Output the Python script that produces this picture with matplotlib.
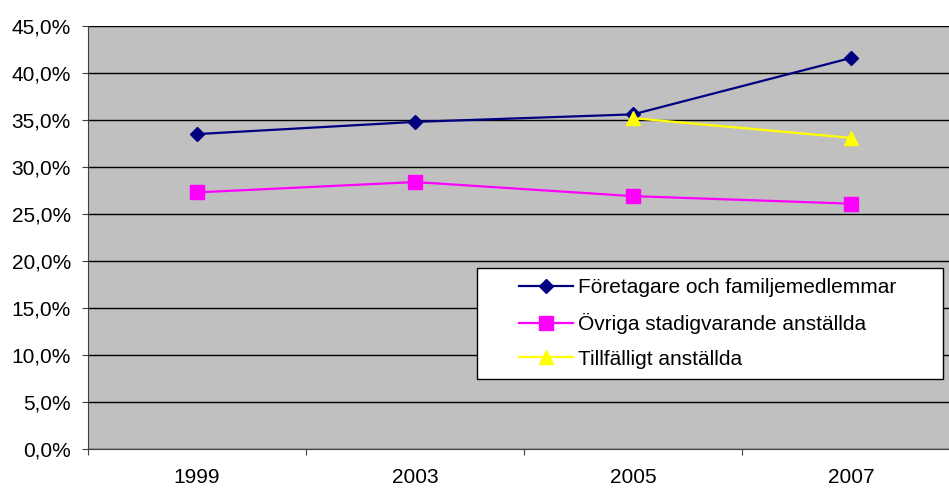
import numpy as np
import matplotlib.pyplot as plt
from matplotlib.ticker import FixedLocator
from matplotlib.patches import Rectangle

plt.rcParams['font.family'] = ['Liberation Sans', 'DejaVu Sans']

# Data
years = ["1999", "2003", "2005", "2007"]
foretagare = [33.5, 34.8, 35.6, 41.6]
ovriga = [27.3, 28.4, 26.9, 26.1]
tillfalligt = [np.nan, np.nan, 35.2, 33.1]

labels = ["Företagare och familjemedlemmar",
          "Övriga stadigvarande anställda",
          "Tillfälligt anställda"]

W, H = 949, 488
fig = plt.figure(figsize=(W / 100, H / 100), dpi=100)
ax = fig.add_axes([88 / W, 39 / H, 872 / W, 423 / H])
ax.set_facecolor("#C0C0C0")

x = np.arange(len(years))
ax.plot(x, foretagare, color="#000080", marker="D", markersize=7, lw=1.6, label=labels[0])
ax.plot(x, ovriga, color="#FF00FF", marker="s", markersize=9.5, lw=1.6, label=labels[1])
ax.plot(x, tillfalligt, color="#FFFF00", marker="^", markersize=10, lw=1.6, label=labels[2])

ax.set_xlim(-0.5, 3.5)
ax.set_ylim(0, 45)
ax.set_yticks(np.arange(0, 46, 5))
ax.set_yticklabels([f"{v:.1f}%".replace(".", ",") for v in np.arange(0, 46, 5)])
ax.yaxis.grid(True, color="black", lw=1)
ax.set_axisbelow(True)

# category boundaries get the tick marks, labels sit at the centres
ax.xaxis.set_major_locator(FixedLocator(np.arange(-0.5, 4, 1)))
ax.xaxis.set_major_formatter(plt.NullFormatter())
ax.xaxis.set_minor_locator(FixedLocator(x))
ax.set_xticklabels(years, minor=True)
ax.tick_params(axis="x", which="minor", length=0, pad=14, labelsize=15)
ax.tick_params(axis="x", which="major", length=4.3, color="#404040")
ax.tick_params(axis="y", length=4.3, color="#404040", labelsize=15, pad=8)

for s in ["top", "right"]:
    ax.spines[s].set_visible(False)
ax.spines["left"].set_color("#404040")
ax.spines["bottom"].set_color("#404040")

# legend box drawn by hand so the handles can sit inset like Excel's
def px_to_ax(px, py):
    return (px - 88) / 872, (449 - py) / 423

x0, y0 = px_to_ax(477, 379)
x1, y1 = px_to_ax(943, 268)
ax.add_patch(Rectangle((x0, y0), x1 - x0, y1 - y0, transform=ax.transAxes,
                       facecolor="white", edgecolor="black", lw=1, zorder=5))
lx, ly = px_to_ax(519, 323.5)
leg = ax.legend(loc="center left", bbox_to_anchor=(lx, ly), frameon=False,
                fontsize=15, handlelength=2.6, borderpad=0, labelspacing=0.75,
                handletextpad=0.25, borderaxespad=0)
leg.set_zorder(6)

fig.savefig("out.png", dpi=100)
